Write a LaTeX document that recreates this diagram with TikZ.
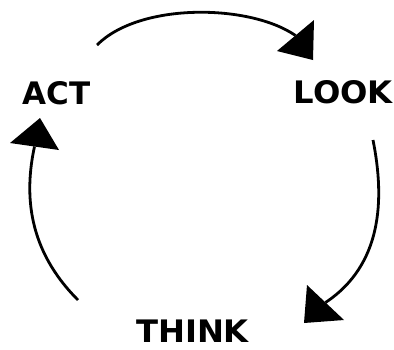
\documentclass[tikz,border=0pt]{standalone}
\usepackage{fontspec}
\setmainfont{DejaVu Sans}
\newcommand{\wide}[1]{\scalebox{1.04}[1]{#1}}
\begin{document}
\begin{tikzpicture}[x=1pt,y=-1pt,
  lbl/.style={inner sep=0pt,anchor=base,font=\fontsize{31}{31}\selectfont\bfseries},
  arc/.style={line width=2.8pt},
  head/.style={fill=black,draw=none}]
\useasboundingbox (0,0) rectangle (394,349);
% labels
\node[lbl] (act) at (56.7,104) {ACT};
\node[lbl] (look) at (343.3,103.8) {\wide{LOOK}};
\node[lbl] (think) at (192.5,342) {\wide{THINK}};
% arc end points
\coordinate (a1) at (97,45);
\coordinate (b1) at (295.5,35.5);
\coordinate (a2) at (373,140);
\coordinate (b2) at (325.5,302.5);
\coordinate (a3) at (78,300);
\coordinate (b3) at (34.5,146.5);
% arcs
\draw[arc] (a1) .. controls (140,2) and (250,4) .. (b1);
\draw[arc] (a2) .. controls (385,200) and (382,265) .. (b2);
\draw[arc] (a3) .. controls (28,250) and (24,195) .. (b3);
% arrowheads
\fill[head] (277,51) -- (314,20) -- (313,60) -- cycle;
\fill[head] (307,285) -- (344,320) -- (304,323) -- cycle;
\fill[head] (10,143) -- (40,118) -- (59,150) -- cycle;
\end{tikzpicture}
\end{document}
